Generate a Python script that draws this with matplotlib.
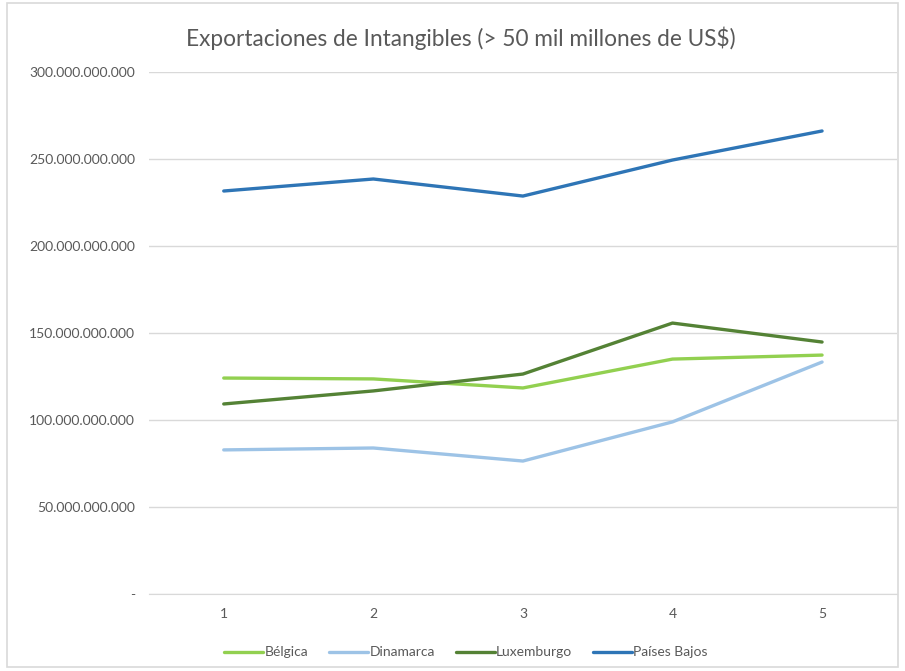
import matplotlib.pyplot as plt
from matplotlib.ticker import FuncFormatter
from matplotlib.patches import Rectangle

plt.rcParams['font.family'] = ['Lato', 'DejaVu Sans']

periods = [1, 2, 3, 4, 5]
belgica = [124.1e9, 123.6e9, 118.4e9, 135.0e9, 137.3e9]
dinamarca = [82.8e9, 83.9e9, 76.4e9, 98.9e9, 133.3e9]
luxemburgo = [109.2e9, 116.7e9, 126.4e9, 155.7e9, 144.8e9]
paises_bajos = [231.6e9, 238.5e9, 228.7e9, 249.4e9, 266.1e9]

series = [
    ("Bélgica", belgica, "#92D050"),
    ("Dinamarca", dinamarca, "#9DC3E6"),
    ("Luxemburgo", luxemburgo, "#548235"),
    ("Países Bajos", paises_bajos, "#2E75B6"),
]


def fmt(v, pos):
    if v == 0:
        return "-"
    return f"{v:,.0f}".replace(",", ".")


fig = plt.figure(figsize=(9.05, 6.71), dpi=100)
ax = fig.add_axes([0.1646, 0.1148, 0.8264, 0.7779])

for name, vals, col in series:
    ax.plot(periods, vals, color=col, lw=2.4, label=name, solid_capstyle='round')

ax.set_xlim(0.5, 5.5)
ax.set_ylim(0, 300e9)
ax.set_yticks([0, 50e9, 100e9, 150e9, 200e9, 250e9, 300e9])
ax.set_xticks(periods)
ax.yaxis.set_major_formatter(FuncFormatter(fmt))
ax.grid(axis='y', color='#D9D9D9', lw=1)
ax.set_axisbelow(True)
for s in ['top', 'right', 'left']:
    ax.spines[s].set_visible(False)
ax.spines['bottom'].set_color('#D9D9D9')
ax.tick_params(length=0, colors='#595959', labelsize=10)
ax.tick_params(axis='y', pad=10)
ax.tick_params(axis='x', pad=10)

fig.text(0.509, 0.943, "Exportaciones de Intangibles (> 50 mil millones de US$)",
         ha='center', va='center', fontsize=16.3, color='#595959')

fig.legend(loc='lower center', bbox_to_anchor=(0.515, 0.0), ncol=4, frameon=False,
           fontsize=10, labelcolor='#595959', handlelength=2.8, handletextpad=0.1,
           columnspacing=1.5)

fig.add_artist(Rectangle((0.008, 0.006), 0.984, 0.99, transform=fig.transFigure,
                         fill=False, edgecolor='#D9D9D9', lw=1.2))

fig.savefig("out.png", dpi=100)
